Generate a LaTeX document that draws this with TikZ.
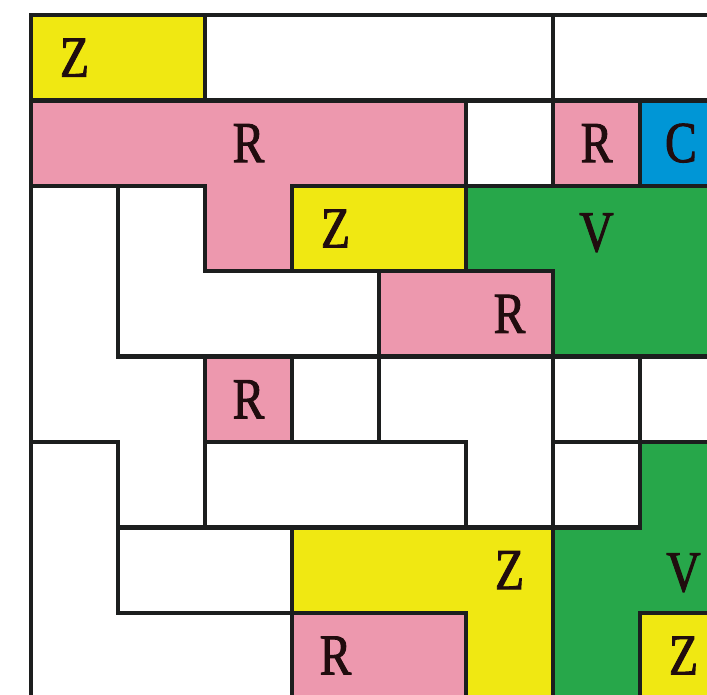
\documentclass[tikz,border=0pt]{standalone}
\usepackage{fontspec}
\newfontfamily\piecefont[FakeStretch=0.82, FakeBold=1.6]{Liberation Serif}
\definecolor{zyellow}{RGB}{240,232,18}
\definecolor{rpink}{RGB}{237,152,174}
\definecolor{vgreen}{RGB}{39,167,74}
\definecolor{cblue}{RGB}{0,150,214}
\definecolor{edge}{RGB}{28,30,30}
\definecolor{ink}{RGB}{32,12,14}
\tikzset{
  piece/.style={draw=edge, line width=4.4pt, line join=miter},
  lbl/.style={font=\piecefont\fontsize{58}{58}\selectfont, text=ink, inner sep=0pt},
}
\begin{document}
\begin{tikzpicture}[x=87pt, y=-85.4pt]
  % visible window of the board
  \useasboundingbox (-0.35632,-0.17564) rectangle (7.77011,7.96253);
  \fill[white] (-0.35632,-0.17564) rectangle (7.77011,7.96253);
  \begin{scope}
    \clip (-0.35632,-0.17564) rectangle (7.77011,7.96253);
    % row 0
    \draw[piece, fill=zyellow] (0,0) rectangle (2,1);
    \draw[piece, fill=white] (2,0) rectangle (6,1);
    \draw[piece, fill=white] (6,0) rectangle (8,1);
    % row 1 and the pink T
    \draw[piece, fill=rpink] (0,1) -- (5,1) -- (5,2) -- (3,2) -- (3,3) -- (2,3) -- (2,2) -- (0,2) -- cycle;
    \draw[piece, fill=white] (5,1) rectangle (6,2);
    \draw[piece, fill=rpink] (6,1) rectangle (7,2);
    \draw[piece, fill=cblue] (7,1) rectangle (8,2);
    % middle part
    \draw[piece, fill=white] (0,2) -- (1,2) -- (1,4) -- (2,4) -- (2,6) -- (1,6) -- (1,5) -- (0,5) -- cycle;
    \draw[piece, fill=white] (1,2) -- (2,2) -- (2,3) -- (4,3) -- (4,4) -- (1,4) -- cycle;
    \draw[piece, fill=zyellow] (3,2) rectangle (5,3);
    \draw[piece, fill=vgreen] (5,2) -- (8,2) -- (8,4) -- (6,4) -- (6,3) -- (5,3) -- cycle;
    \draw[piece, fill=rpink] (4,3) rectangle (6,4);
    \draw[piece, fill=rpink] (2,4) rectangle (3,5);
    \draw[piece, fill=white] (3,4) rectangle (4,5);
    \draw[piece, fill=white] (4,4) -- (6,4) -- (6,6) -- (5,6) -- (5,5) -- (4,5) -- cycle;
    \draw[piece, fill=white] (6,4) rectangle (7,5);
    \draw[piece, fill=white] (7,4) rectangle (8,5);
    \draw[piece, fill=white] (2,5) rectangle (5,6);
    \draw[piece, fill=white] (6,5) rectangle (7,6);
    % lower part
    \draw[piece, fill=vgreen] (7,5) -- (8,5) -- (8,7) -- (7,7) -- (7,8) -- (6,8) -- (6,6) -- (7,6) -- cycle;
    \draw[piece, fill=white] (0,5) -- (1,5) -- (1,7) -- (3,7) -- (3,8) -- (0,8) -- cycle;
    \draw[piece, fill=white] (1,6) rectangle (3,7);
    \draw[piece, fill=zyellow] (3,6) -- (6,6) -- (6,8) -- (5,8) -- (5,7) -- (3,7) -- cycle;
    \draw[piece, fill=rpink] (3,7) rectangle (5,8);
    \draw[piece, fill=zyellow] (7,7) rectangle (8,8);
    % letters naming the colours
    \node[lbl] (z1) at (0.5,0.5) {Z};
    \node[lbl] (r1) at (2.5,1.5) {R};
    \node[lbl] (r2) at (6.5,1.5) {R};
    \node[lbl] (c1) at (7.47,1.5) {C};
    \node[lbl] (z2) at (3.5,2.5) {Z};
    \node[lbl] (v1) at (6.5,2.55) {V};
    \node[lbl] (r3) at (5.5,3.5) {R};
    \node[lbl] (r4) at (2.5,4.5) {R};
    \node[lbl] (z3) at (5.5,6.5) {Z};
    \node[lbl] (v2) at (7.5,6.53) {V};
    \node[lbl] (r5) at (3.5,7.5) {R};
    \node[lbl] (z4) at (7.5,7.5) {Z};
  \end{scope}
\end{tikzpicture}
\end{document}
